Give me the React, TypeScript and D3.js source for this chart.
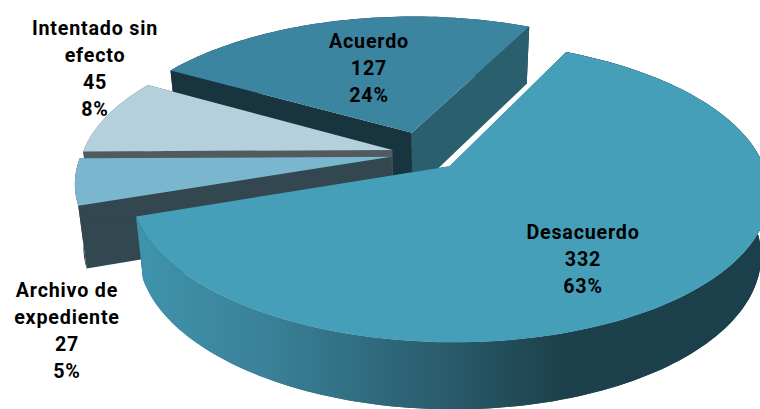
import React from "react";
import * as d3 from "d3";

const categories = ["Desacuerdo", "Archivo de expediente", "Intentado sin efecto", "Acuerdo"];
const seriesValues = [332, 27, 45, 127];
const percentLabels = ["63%", "5%", "8%", "24%"];
const labelLines = [["Desacuerdo"], ["Archivo de", "expediente"], ["Intentado sin", "efecto"], ["Acuerdo"]];
const explosions = [0.113, 0.113, 0.113, 0.16];
const topColors = ["#459fb9", "#7ab7ce", "#b3d0dc", "#3b85a0"];
const startWallColors = ["#2a5f6e", "#32474f", "#515a5f", "#17343f"];
const endWallColors = ["#32474f", "#32474f", "#515a5f", "#2a5f6e"];
const sideColors = ["url(#sideGrad)", "#32474f", "#515a5f", "#17343f"];
const labelAnchors: [number, number][] = [[583, 232], [67, 290], [95, 28], [369, 41]];
const drawOrder = [3, 2, 1, 0];

const W = 760, H = 409;
const CX = 426, CY = 154, A = 142.2, B = 310, K = 0.167;
const START = (26 * Math.PI) / 180;

// Perspective map of the pie's plane: u to the right, v toward the viewer.
const project = (u: number, v: number): [number, number] => {
  const w = 1 - K * v;
  return [CX + (B * u) / w, CY + (A * v) / w];
};
// Extruded point under a top-face point: height grows toward the viewer, verticals converge slightly.
const depthScale = d3.scaleLinear().domain([26, 343]).range([57, 67]);
const drop = ([x, y]: [number, number]): [number, number] => [x + (CX - x) * 0.024, y + depthScale(y)];

const pie = d3.pie<number>().sort(null).startAngle(START).endAngle(START + 2 * Math.PI);
const arcs = pie(seriesValues);
const line = d3.line<[number, number]>();
const closed = (pts: [number, number][]) => line(pts) + "Z";

export default function App() {
  const shapes = arcs.map((a, i) => {
    const mid = (a.startAngle + a.endAngle) / 2;
    const e = explosions[i];
    const au = e * Math.sin(mid), av = -e * Math.cos(mid);
    const apex = project(au, av);
    const n = Math.max(8, Math.ceil((a.endAngle - a.startAngle) * 40));
    const rim = d3.range(n + 1).map((k) => {
      const t = a.startAngle + ((a.endAngle - a.startAngle) * k) / n;
      return project(au + Math.sin(t), av - Math.cos(t));
    });
    const rimDown = rim.map(drop);
    return {
      i,
      top: closed([apex, ...rim]),
      wallStart: closed([apex, rim[0], rimDown[0], drop(apex)]),
      wallEnd: closed([apex, rim[n], rimDown[n], drop(apex)]),
      side: closed([...rim, ...[...rimDown].reverse()]),
    };
  });
  return (
    <svg width={W} height={H} viewBox={`0 0 ${W} ${H}`} style={{ position: "absolute", left: 0, top: 0, background: "#fff" }}>
      <defs>
        <linearGradient id="sideGrad" gradientUnits="userSpaceOnUse" x1={138} y1={0} x2={760} y2={0}>
          <stop offset="0" stopColor="#3f93ac" />
          <stop offset="0.2" stopColor="#3a8299" />
          <stop offset="0.48" stopColor="#2a5d6d" />
          <stop offset="0.68" stopColor="#1d414c" />
          <stop offset="1" stopColor="#1c404b" />
        </linearGradient>
      </defs>
      {drawOrder.map((i) => {
        const s = shapes[i];
        return (
          <g key={categories[i]}>
            <path d={s.side} fill={sideColors[i]} />
            <path d={s.wallStart} fill={startWallColors[i]} />
            <path d={s.wallEnd} fill={endWallColors[i]} />
            {i === 0 && <path d={s.side} fill={sideColors[i]} />}
            <path d={s.top} fill={topColors[i]} />
          </g>
        );
      })}
      {categories.map((c, i) => {
        const lines = [...labelLines[i], String(seriesValues[i]), percentLabels[i]];
        return (
          <text key={c} textAnchor="middle" fontFamily="Roboto, sans-serif" fontWeight={700} fontSize={19.7} letterSpacing={0.8} fill="#000">
            {lines.map((t, k) => (
              <tspan key={k} x={labelAnchors[i][0]} y={labelAnchors[i][1] + 27 * k} dominantBaseline="central">{t}</tspan>
            ))}
          </text>
        );
      })}
    </svg>
  );
}
